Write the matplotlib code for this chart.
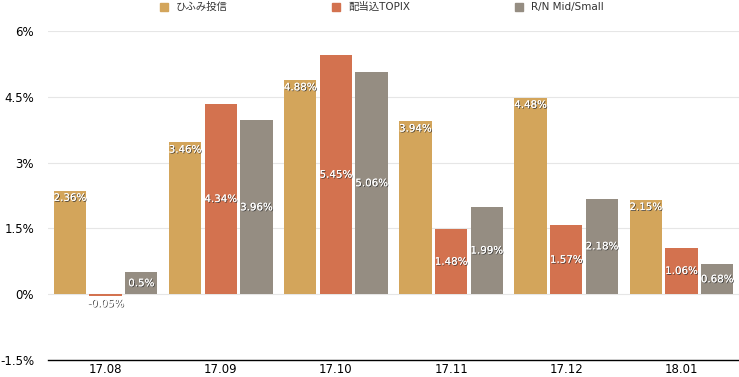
import numpy as np
import matplotlib.pyplot as plt
import matplotlib.patheffects as pe
from matplotlib.patches import Rectangle

plt.rcParams['font.family'] = ['DejaVu Sans', 'Noto Sans CJK JP']

# Datos
meses = ['17.08', '17.09', '17.10', '17.11', '17.12', '18.01']
hifumi = [2.36, 3.46, 4.88, 3.94, 4.48, 2.15]
topix = [-0.05, 4.34, 5.45, 1.48, 1.57, 1.06]
rn_mid = [0.5, 3.96, 5.06, 1.99, 2.18, 0.68]
series = ['ひふみ投信', '配当込TOPIX', 'R/N Mid/Small']
colores = ['#D3A55B', '#D3724F', '#958D82']
yticks = [-1.5, 0, 1.5, 3, 4.5, 6]
ytick_labels = ['-1.5%', '0%', '1.5%', '3%', '4.5%', '6%']

fig = plt.figure(figsize=(7.39, 3.77), dpi=100)
ax = fig.add_axes([48/739, 17/377, 691/739, 329/377])

x = np.arange(len(meses))
ancho = 0.28
paso = 0.31
sombra = [pe.withSimplePatchShadow(offset=(0.6, -0.6), shadow_rgbFace='#333333', alpha=0.9), pe.Normal()]

for i, (vals, col) in enumerate(zip([hifumi, topix, rn_mid], colores)):
    pos = x + (i - 1)*paso
    ax.bar(pos, vals, ancho, color=col, zorder=2)
    for xp, v in zip(pos, vals):
        if i == 0:
            y, va = v - 0.05, 'top'
        elif v < 0:
            y, va = v - 0.05, 'top'
        else:
            y, va = v/2, 'center'
        ax.text(xp, y, '%g%%' % v, ha='center', va=va, color='white', fontsize=7.4,
                path_effects=sombra, zorder=3)

ax.set_xlim(-0.5, len(meses) - 0.5)
ax.set_ylim(-1.5, 6)
ax.set_yticks(yticks)
ax.set_yticklabels(ytick_labels, fontsize=8.5, color='black')
ax.set_xticks(x)
ax.set_xticklabels(meses, fontsize=8.5, color='black')
ax.tick_params(length=0)
ax.tick_params(axis='x', pad=2.5)
ax.tick_params(axis='y', pad=10)
for yv in yticks[1:]:
    ax.axhline(yv, color='#E6E6E6', lw=0.8, zorder=1)
for s in ['top', 'right', 'left']:
    ax.spines[s].set_visible(False)
ax.spines['bottom'].set_color('black')
ax.spines['bottom'].set_linewidth(1)

# leyenda
leg_x = [160, 332, 515]
for lx, nombre, col in zip(leg_x, series, colores):
    fig.patches.append(Rectangle((lx/739, 1 - 11/377), 8/739, 8/377, color=col,
                                 transform=fig.transFigure, figure=fig))
    fig.text((lx + 16)/739, 1 - 7/377, nombre, fontsize=7.5, color='#333333', va='center')

fig.savefig('out.png', dpi=100)
